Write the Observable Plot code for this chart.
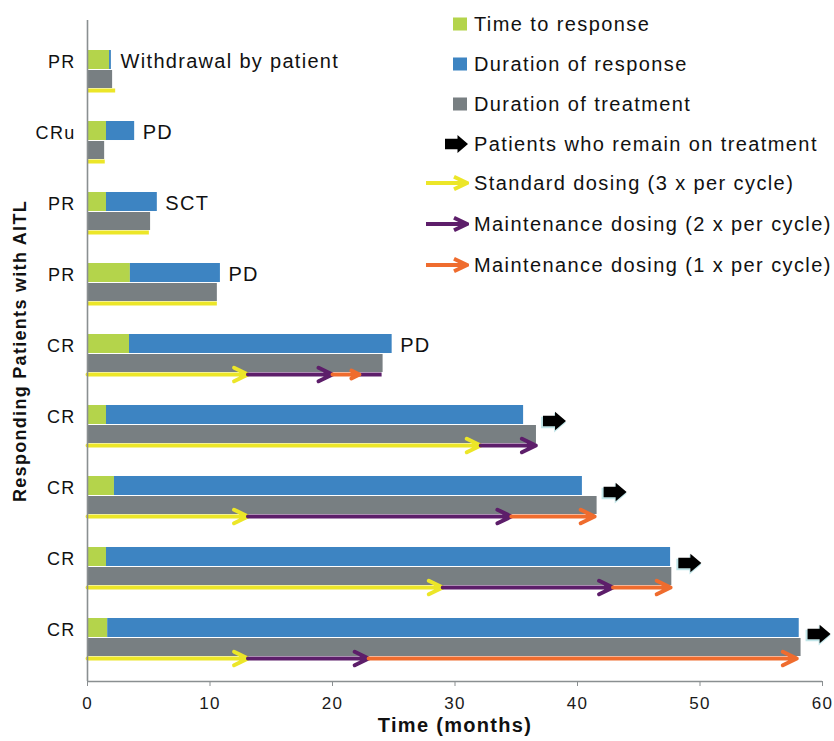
<!DOCTYPE html>
<html><head><meta charset="utf-8">
<script src="https://cdn.jsdelivr.net/npm/d3@7"></script>
<script src="https://cdn.jsdelivr.net/npm/@observablehq/plot@0.6"></script>
<style>
body{margin:0;background:#fff;}
#wrap{position:relative;width:834px;height:741px;font-family:"Liberation Sans",Arial,Helvetica,sans-serif;}
#chart svg{font-family:"Liberation Sans",Arial,Helvetica,sans-serif;}
#chart svg text{letter-spacing:1.3px;}
#legend{position:absolute;left:0;top:0;width:834px;height:300px;pointer-events:none;}
.item{position:absolute;left:423px;height:26px;display:flex;align-items:center;font-size:20px;letter-spacing:1.4px;color:#111;white-space:nowrap;}
.item svg{width:46px;height:26px;margin-right:5px;flex:none;}
</style></head>
<body><div id="wrap"><div id="chart"></div><div id="legend"></div></div>
<script>
// ---- data (top to bottom) ----
const responses = ["PR", "CRu", "PR", "PR", "CR", "CR", "CR", "CR", "CR"];
const timeToResponse = [1.8, 1.55, 1.55, 3.5, 3.43, 1.55, 2.2, 1.55, 1.65];
const responseEnd = [1.95, 3.85, 5.7, 10.85, 24.87, 35.6, 40.4, 47.6, 58.1];
const treatmentEnd = [2.05, 1.4, 5.15, 10.6, 24.13, 36.65, 41.6, 47.7, 58.25];
const outcomes = ["Withdrawal by patient", "PD", "SCT", "PD", "PD", "", "", "", ""];
const remainsOnTreatment = [false, false, false, false, false, true, true, true, true];

const dosePatient = [0, 1, 2, 3, 4, 4, 4, 4, 5, 5, 6, 6, 6, 7, 7, 7, 8, 8, 8];
const doseRegimen = ["std","std","std","std","std","m2","m1","m2","std","m2","std","m2","m1","std","m2","m1","std","m2","m1"];
const doseStart = [0, 0, 0, 0, 0, 13.1, 20.0, 22.2, 0, 32.1, 0, 13.1, 34.6, 0, 29.0, 42.9, 0, 13.1, 22.95];
const doseEnd = [2.3, 1.45, 5.05, 10.6, 13.1, 20.0, 22.2, 24.05, 32.1, 36.6, 13.1, 34.6, 41.4, 29.0, 42.9, 47.6, 13.1, 22.95, 57.9];
const doseHead = [false, false, false, false, true, true, true, false, true, true, true, true, true, true, true, true, true, true, true];

const xTicks = [0, 10, 20, 30, 40, 50, 60];
const regimens = ["std", "m2", "m1"];
const legendLabels = ["Time to response", "Duration of response", "Duration of treatment",
  "Patients who remain on treatment", "Standard dosing (3 x per cycle)",
  "Maintenance dosing (2 x per cycle)", "Maintenance dosing (1 x per cycle)"];

// ---- style ----
const GREEN = "#b4d44b", BLUE = "#3d84c2", GRAY = "#787f82";
const YELLOW = "#ece628", PURPLE = "#5d1e6a", ORANGE = "#ef6c2e";
const regimenColors = [YELLOW, PURPLE, ORANGE];
const U = 1 / 71; // one pixel in patient-row units
const off = {respTop: 8 * U, respBot: 27 * U, trtTop: 28 * U, trtBot: 46 * U, line: 48 * U, mid: 17.5 * U};

const patients = responses.map((r, i) => ({
  i, resp: r, ttr: timeToResponse[i], respEnd: responseEnd[i], trtEnd: treatmentEnd[i],
  outcome: outcomes[i], remains: remainsOnTreatment[i]
}));
const doses = dosePatient.map((p, j) => ({
  p, regimen: doseRegimen[j], start: doseStart[j], end: doseEnd[j], head: doseHead[j]
}));

const blockArrow = {
  draw(ctx, size) {
    const r = Math.sqrt(size / Math.PI);
    const sh = 0.46 * r, hh = 0.8 * r, neck = 0.05 * r;
    ctx.moveTo(-r, -sh); ctx.lineTo(neck, -sh); ctx.lineTo(neck, -hh);
    ctx.lineTo(r, 0); ctx.lineTo(neck, hh); ctx.lineTo(neck, sh);
    ctx.lineTo(-r, sh); ctx.closePath();
  }
};

const chart = Plot.plot({
  width: 834, height: 741,
  marginLeft: 87, marginRight: 12, marginTop: 20, marginBottom: 60,
  style: {fontFamily: "Liberation Sans, Arial, sans-serif", background: "#fff"},
  x: {domain: [0, 60], axis: null},
  y: {domain: [-0.31, 9], reverse: true, axis: null},
  color: {domain: regimens, range: regimenColors},
  marks: [
    Plot.rectX(patients, {x1: 0, x2: "ttr", y1: d => d.i + off.respTop, y2: d => d.i + off.respBot, fill: GREEN}),
    Plot.rectX(patients, {x1: "ttr", x2: "respEnd", y1: d => d.i + off.respTop, y2: d => d.i + off.respBot, fill: BLUE}),
    Plot.rectX(patients, {x1: 0, x2: "trtEnd", y1: d => d.i + off.trtTop, y2: d => d.i + off.trtBot, fill: GRAY}),
    Plot.ruleY(doses.filter(d => !d.head), {x1: "start", x2: "end", y: d => d.p + off.line, stroke: "regimen", strokeWidth: 4}),
    Plot.arrow(doses.filter(d => d.head), {x1: "start", x2: "end", y1: d => d.p + off.line, y2: d => d.p + off.line,
      stroke: "regimen", strokeWidth: 4, headLength: 5.8, headAngle: 52}),
    Plot.ruleX([0], {stroke: "#8a8f91", strokeWidth: 1.6}),
    Plot.ruleY([9], {stroke: "#8a8f91", strokeWidth: 1.6}),
    Plot.axisX({ticks: xTicks, tickSize: 5, tickPadding: 10, fontSize: 17, stroke: "#8a8f91", fill: "#1a1a1a", label: null}),
    Plot.text(patients, {x: 0, y: d => d.i + off.mid, text: "resp", textAnchor: "end", dx: -12, dy: 2, fontSize: 18, fill: "#111"}),
    Plot.text(patients.filter(d => d.outcome), {x: d => Math.max(d.respEnd, d.trtEnd), y: d => d.i + off.mid, text: "outcome",
      textAnchor: "start", dx: 8, dy: 2, fontSize: 20, fill: "#111"}),
    Plot.dot(patients.filter(d => d.remains), {x: "trtEnd", y: d => d.i + off.mid + 6 * U, symbol: blockArrow, r: 12.5,
      fill: "#4fb8c0", fillOpacity: 0.35, dx: 17, dy: 1.5}),
    Plot.dot(patients.filter(d => d.remains), {x: "trtEnd", y: d => d.i + off.mid + 6 * U, symbol: blockArrow, r: 11.5,
      fill: "#000", dx: 18}),
    Plot.text(["Time (months)"], {frameAnchor: "bottom", textAnchor: "middle", dy: 50, fontSize: 20, fontWeight: "bold", fill: "#111"}),
    Plot.text(["Responding Patients with AITL"], {frameAnchor: "left", textAnchor: "middle", dx: -67, rotate: -90, fontSize: 18, fontWeight: "bold", fill: "#111"})
  ]
});
document.getElementById("chart").appendChild(chart);

// ---- legend ----
const legendCenters = [24, 64, 104, 144, 183, 224, 265];
const icons = [
  `<rect x="30" y="6.5" width="14" height="13" fill="${GREEN}"/>`,
  `<rect x="30" y="6.5" width="14" height="13" fill="${BLUE}"/>`,
  `<rect x="30" y="6.5" width="14" height="13" fill="${GRAY}"/>`,
  `<path d="M22 7.8 H34.5 V4 L45 13 L34.5 22 V18.2 H22 Z" fill="#000"/>`,
  `<path d="M3 13 H44 M31 6.8 L44 13 L31 19.2" stroke="${YELLOW}" stroke-width="4" fill="none"/>`,
  `<path d="M3 13 H44 M31 6.8 L44 13 L31 19.2" stroke="${PURPLE}" stroke-width="4" fill="none"/>`,
  `<path d="M3 13 H44 M31 6.8 L44 13 L31 19.2" stroke="${ORANGE}" stroke-width="4" fill="none"/>`
];
const leg = document.getElementById("legend");
legendLabels.forEach((lab, k) => {
  const div = document.createElement("div");
  div.className = "item";
  div.style.top = (legendCenters[k] - 13) + "px";
  div.innerHTML = `<svg viewBox="0 0 46 26">${icons[k]}</svg><span>${lab}</span>`;
  leg.appendChild(div);
});
</script></body></html>
